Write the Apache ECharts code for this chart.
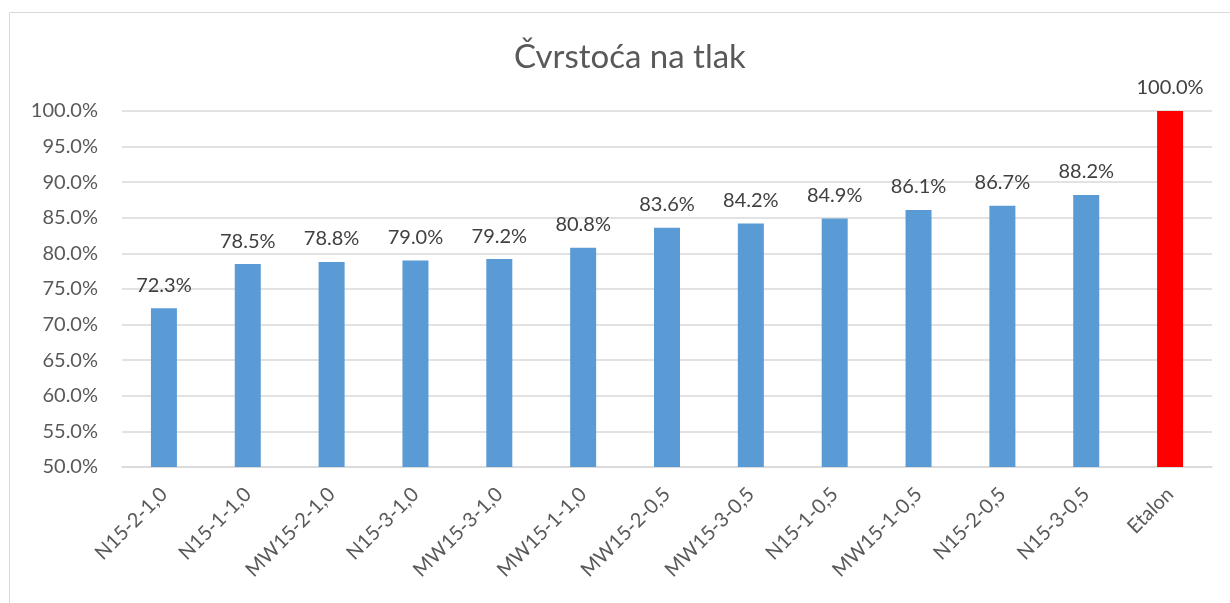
<!DOCTYPE html>
<html>
<head>
<meta charset="utf-8">
<script src="https://cdn.jsdelivr.net/npm/echarts@6/dist/echarts.min.js"></script>
<style>
  html, body { margin: 0; padding: 0; background: #fff; }
  #main { width: 1230px; height: 603px; }
</style>
</head>
<body>
<div id="main"></div>
<script>
var categories = ['N15-2-1,0', 'N15-1-1,0', 'MW15-2-1,0', 'N15-3-1,0', 'MW15-3-1,0', 'MW15-1-1,0',
  'MW15-2-0,5', 'MW15-3-0,5', 'N15-1-0,5', 'MW15-1-0,5', 'N15-2-0,5', 'N15-3-0,5', 'Etalon'];
var values = [72.3, 78.5, 78.8, 79.0, 79.2, 80.8, 83.6, 84.2, 84.9, 86.1, 86.7, 88.2, 100.0];
var highlight = 'Etalon';

var chart = echarts.init(document.getElementById('main'));

chart.setOption({
  animation: false,
  textStyle: { fontFamily: 'Lato' },
  title: {
    text: 'Čvrstoća na tlak',
    left: 509,
    top: 36,
    textStyle: { fontFamily: 'Lato', fontSize: 33, fontWeight: 'normal', color: '#595959' }
  },
  graphic: [{
    type: 'rect',
    shape: { x: 9.5, y: 12.5, width: 1300, height: 700 },
    style: { fill: 'none', stroke: '#d9d9d9', lineWidth: 1 },
    silent: true
  }],
  grid: { left: 122, right: 18, top: 111, bottom: 136, containLabel: false },
  xAxis: {
    type: 'category',
    data: categories,
    axisTick: { show: false },
    axisLine: { lineStyle: { color: '#d9d9d9', width: 1.5 } },
    axisLabel: { rotate: 45, margin: 24, color: '#595959', fontSize: 20, fontFamily: 'Lato', interval: 0 }
  },
  yAxis: {
    type: 'value',
    min: 50,
    max: 100,
    interval: 5,
    axisLine: { show: false },
    axisTick: { show: false },
    splitLine: { lineStyle: { color: '#d9d9d9', width: 1.5 } },
    axisLabel: {
      margin: 24, color: '#595959', fontSize: 20, fontFamily: 'Lato',
      formatter: function (v) { return v.toFixed(1) + '%'; }
    }
  },
  series: [{
    type: 'bar',
    barWidth: 26,
    data: values.map(function (v, i) {
      return {
        value: v,
        itemStyle: { color: categories[i] === highlight ? '#ff0000' : '#5b9bd5' }
      };
    }),
    label: {
      show: true,
      position: 'top',
      distance: 13,
      color: '#404040',
      fontSize: 20,
      fontFamily: 'Lato',
      formatter: function (p) { return p.value.toFixed(1) + '%'; }
    }
  }]
});
</script>
</body>
</html>
